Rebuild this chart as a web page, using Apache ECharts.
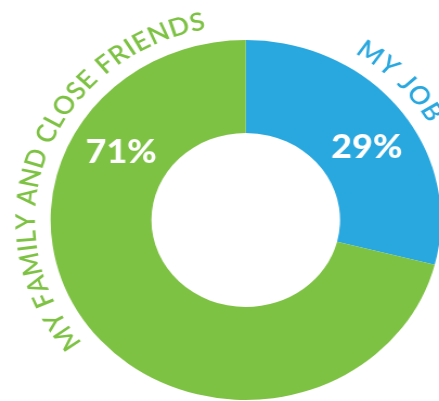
<!DOCTYPE html>
<html>
<head>
<meta charset="utf-8">
<script src="https://cdn.jsdelivr.net/npm/echarts@6/dist/echarts.min.js"></script>
<style>
  html, body { margin: 0; padding: 0; background: #ffffff; overflow: hidden; }
  #wrap { width: 439px; height: 401px; overflow: hidden; }
  /* the donut is drawn slightly wider than tall */
  #chart { width: 405px; height: 401px; transform: scaleX(1.084); transform-origin: 0 0; }
</style>
</head>
<body>
<div id="wrap"><div id="chart"></div></div>
<script>
// Share of answers per category (percent)
const categories = ['MY JOB', 'MY FAMILY AND CLOSE FRIENDS'];
const shares = [29, 71];
const colors = ['#29A8E0', '#7DC243'];

// Layout
const CX = 226.7, CY = 220;
const R_IN = 87, R_OUT = 180;
const VALUE_LABEL_R = 133.5;
const valueLabelAngles = [56.8, 300.6];          // degrees, clockwise from top
const nameArcs = [[34.5, 57.8], [234.3, 347.2]];  // first/last letter centre angles
const NAME_R = 202.5;
const NAME_FONT = '600 25px Lato, "Open Sans", sans-serif';

const measureCtx = document.createElement('canvas').getContext('2d');
measureCtx.font = NAME_FONT;

// One rotated text element per character, spread along an arc.
function arcText(text, a0, a1, r, color) {
  const chars = Array.from(text);
  const w = chars.map(c => measureCtx.measureText(c).width);
  const n = chars.length;
  const arcLen = (a1 - a0) * Math.PI / 180 * r;
  let base = 0;
  for (let j = 0; j < n - 1; j++) base += w[j];
  base += w[n - 1] / 2 - w[0] / 2;
  const gap = (arcLen - base) / (n - 1);
  const out = [];
  let s = w[0] / 2;
  for (let i = 0; i < n; i++) {
    const off = s - w[0] / 2;
    const th = (a0 * Math.PI / 180) + off / r;
    out.push({
      type: 'text',
      x: CX + r * Math.sin(th),
      y: CY - r * Math.cos(th),
      rotation: -th,
      silent: true,
      style: {
        text: chars[i],
        font: NAME_FONT,
        fill: color,
        align: 'center',
        verticalAlign: 'middle'
      }
    });
    if (i < n - 1) s += w[i] / 2 + gap + w[i + 1] / 2;
  }
  return out;
}

let graphics = [];
categories.forEach((c, i) => {
  graphics = graphics.concat(arcText(c, nameArcs[i][0], nameArcs[i][1], NAME_R, colors[i]));
});

const chart = echarts.init(document.getElementById('chart'), null, { renderer: 'canvas' });
chart.setOption({
  animation: false,
  backgroundColor: '#ffffff',
  graphic: { elements: graphics },
  series: [{
    type: 'pie',
    center: [CX, CY],
    radius: [R_IN, R_OUT],
    startAngle: 90,
    clockwise: true,
    silent: true,
    itemStyle: { borderWidth: 0 },
    label: {
      show: true,
      position: 'inside',
      formatter: p => p.value + '%',
      color: '#ffffff',
      fontFamily: 'Lato, "Open Sans", sans-serif',
      fontWeight: 900,
      fontSize: 33,
      align: 'center',
      verticalAlign: 'middle'
    },
    labelLine: { show: false },
    labelLayout: function (p) {
      const th = valueLabelAngles[p.dataIndex] * Math.PI / 180;
      return {
        x: CX + VALUE_LABEL_R * Math.sin(th),
        y: CY - VALUE_LABEL_R * Math.cos(th),
        align: 'center',
        verticalAlign: 'middle'
      };
    },
    data: categories.map((c, i) => ({
      name: c,
      value: shares[i],
      itemStyle: { color: colors[i] }
    }))
  }]
});
</script>
</body>
</html>
